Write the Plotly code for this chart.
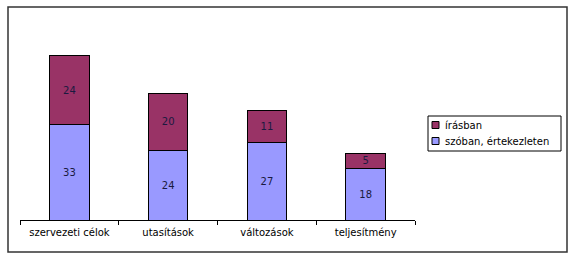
import plotly.graph_objects as go

categories = ["szervezeti célok", "utasítások", "változások", "teljesítmény"]
szoban = [33, 24, 27, 18]
irasban = [24, 20, 11, 5]
series_names = ["szóban, értekezleten", "írásban"]
series_colors = ["#9999FF", "#993366"]

W, H = 579, 264
L, R, T, B = 20, 164, 47, 44
pw, ph = W - L - R, H - T - B

def px_x(x):
    return (x - L) / pw

def px_y(y):
    return (H - B - y) / ph

font = "DejaVu Sans, Liberation Sans, Arial, sans-serif"

fig = go.Figure()
for vals, name, col in [(szoban, series_names[0], series_colors[0]),
                        (irasban, series_names[1], series_colors[1])]:
    fig.add_trace(go.Bar(
        x=categories, y=vals, name=name,
        marker=dict(color=col, line=dict(color="#000000", width=1)),
        text=vals, textposition="inside", insidetextanchor="middle",
        textangle=0,
        textfont=dict(family=font, size=10, color="#1a1a40"),
        showlegend=False,
    ))

fig.update_layout(
    width=W, height=H,
    margin=dict(l=L, r=R, t=T, b=B),
    barmode="stack", bargap=0.6,
    paper_bgcolor="white", plot_bgcolor="white",
    font=dict(family=font, size=10, color="#000000"),
    uniformtext=dict(minsize=8, mode="show"),
)
fig.update_xaxes(
    showline=True, linecolor="#000000", linewidth=1,
    ticks="outside", ticklen=4, tickcolor="#000000",
    tickson="boundaries", showgrid=False,
    ticklabelstandoff=3,
    tickfont=dict(family=font, size=10, color="#000000"),
)
fig.update_yaxes(range=[0, 60], visible=False, showgrid=False)

# outer chart border
fig.add_shape(
    type="rect", xref="paper", yref="paper",
    x0=px_x(8), x1=px_x(567), y0=px_y(252), y1=px_y(7),
    line=dict(color="#333333", width=1.5), fillcolor="rgba(0,0,0,0)",
    layer="below",
)

# legend (drawn manually to match Excel-style compact legend)
fig.add_shape(
    type="rect", xref="paper", yref="paper",
    x0=px_x(428), x1=px_x(561), y0=px_y(151), y1=px_y(116),
    line=dict(color="#000000", width=1), fillcolor="white",
)
legend_items = [(series_names[1], series_colors[1], 125),
                (series_names[0], series_colors[0], 141)]
for name, col, yc in legend_items:
    fig.add_shape(
        type="rect", xref="paper", yref="paper",
        x0=px_x(432), x1=px_x(439), y0=px_y(yc + 3.5), y1=px_y(yc - 3.5),
        line=dict(color="#000000", width=1), fillcolor=col,
    )
    fig.add_annotation(
        xref="paper", yref="paper", x=px_x(443), y=px_y(yc),
        text=name, showarrow=False, xanchor="left", yanchor="middle",
        font=dict(family=font, size=10, color="#000000"),
    )

fig.write_html("out.html")
